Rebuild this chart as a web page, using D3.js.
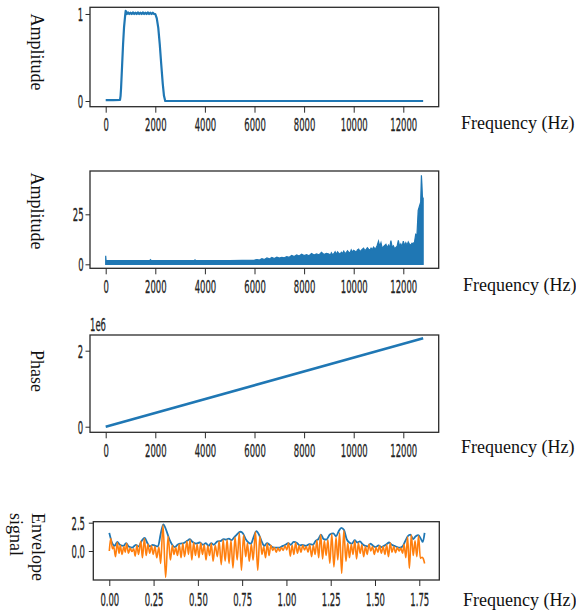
<!DOCTYPE html>
<html><head><meta charset="utf-8">
<script src="https://cdn.jsdelivr.net/npm/d3@7"></script>
<style>body{margin:0;background:#fff}svg{display:block}</style>
</head><body>
<svg id="c" width="576" height="610"></svg>
<script>
// ---------- data ----------
const freqTicks = [0, 2000, 4000, 6000, 8000, 10000, 12000];
const timeTicks = [0, 0.25, 0.5, 0.75, 1.0, 1.25, 1.5, 1.75];

// panel 1 : band-pass filter amplitude
const filterFreq = [0, 300, 577, 600, 620, 660, 700, 740, 780, 806, 850, 900, 950, 1000, 1050, 1100, 1150, 1200, 1250, 1300, 1350, 1400, 1450, 1500, 1550, 1600, 1650, 1700, 1750, 1800, 1850, 1900, 1950, 2000, 2060, 2120, 2180, 2240, 2300, 2350, 2400, 2500, 6000, 12800];
const filterAmp  = [0.011, 0.011, 0.012, 0.06, 0.15, 0.4, 0.65, 0.85, 0.97, 1.035, 1.0, 1.018, 1.0, 1.015, 1.0, 1.018, 1.0, 1.015, 1.0, 1.018, 1.0, 1.015, 1.0, 1.018, 1.0, 1.015, 1.0, 1.018, 1.0, 1.015, 1.0, 1.015, 1.0, 1.0, 0.95, 0.84, 0.65, 0.42, 0.2, 0.06, 0.0, 0.0, 0.0, 0.0];

// panel 2 : amplitude spectrum
const specFreq = [0, 15, 30, 500, 1000, 1500, 1780, 1800, 1850, 2500, 3000, 3580, 3600, 3650, 4000, 4500, 5000, 5500, 6000,
  6100, 6200, 6300, 6400, 6500, 6600, 6700, 6800, 6900, 7000, 7100, 7200, 7300, 7400, 7500, 7600, 7700, 7800, 7900, 8000,
  8100, 8200, 8300, 8400, 8500, 8600, 8700, 8800, 8900,
  9000, 9050, 9100, 9150, 9200, 9250, 9300, 9350, 9400, 9450, 9500, 9550, 9600, 9650, 9700, 9750, 9800, 9850, 9900, 9950,
  10000, 10050, 10100, 10150, 10200, 10250, 10300, 10350, 10400, 10450, 10500, 10550, 10600, 10650, 10700, 10750, 10800, 10850, 10900, 10950,
  11000, 11050, 11100, 11150, 11200, 11250, 11300, 11350, 11400, 11450, 11500, 11550, 11600, 11650, 11700, 11750, 11800, 11850, 11900, 11950,
  12000, 12050, 12100, 12150, 12200, 12250, 12300, 12350, 12400, 12450, 12500, 12550, 12600, 12650, 12700, 12730,
  12750, 12770, 12790, 12800];
const specAmp = [4.3, 1.9, 1.8, 1.8, 1.8, 1.8, 1.8, 2.3, 1.8, 1.8, 1.8, 1.8, 2.2, 1.8, 1.8, 1.9, 1.9, 2.0, 2.1,
  2.4, 2.1, 2.8, 2.4, 3.2, 2.7, 3.4, 2.9, 3.6, 3.1, 3.5, 3.2, 3.8, 3.5, 4.4, 3.9, 4.7, 4.1, 5.0, 4.4,
  4.8, 4.3, 5.4, 4.6, 5.2, 4.7, 6.0, 4.9, 5.5,
  5.1, 4.4, 5.8, 4.8, 5.3, 6.3, 5.0, 6.2, 5.5, 5.0, 6.0, 5.4, 6.6, 5.2, 5.9, 6.8, 6.0, 5.6, 7.2, 6.1,
  7.0, 6.6, 6.0, 7.2, 7.6, 6.4, 6.9, 7.5, 8.0, 6.8, 7.4, 8.3, 7.6, 7.0, 8.1, 7.3, 8.6, 7.8, 8.2, 9.5,
  11.5, 9.0, 10.8, 8.0, 8.8, 9.4, 10.0, 8.2, 9.6, 8.4, 11.8, 8.6, 9.2, 7.8, 8.4, 9.0, 12.0, 9.0, 10.2, 8.8,
  11.6, 9.4, 10.8, 9.5, 11.2, 10.0, 9.6, 10.6, 10.4, 11.0, 15.0, 14.6, 27, 29, 31, 44.5,
  40, 34, 33, 33];

// panel 3 : phase
const phaseFreq = [0, 12800];
const phaseVal  = [0, 2330000];

// panel 4 : envelope (blue) and signal (orange), [time, value]
const envelopePts = [[0,1.6],[0.015,0.75],[0.03,0.45],[0.045,0.8],[0.06,0.55],[0.08,0.45],[0.095,0.7],[0.11,0.4],[0.13,0.3],[0.15,0.55],[0.165,0.4],[0.185,0.95],[0.2,1.15],[0.215,0.7],[0.23,0.4],[0.245,0.55],[0.26,0.45],[0.275,0.4],[0.29,1.5],[0.305,2.36],[0.32,1.9],[0.34,1.0],[0.355,0.55],[0.37,0.35],[0.385,0.55],[0.4,0.65],[0.42,0.7],[0.44,0.9],[0.455,1.05],[0.47,0.8],[0.49,0.65],[0.51,0.75],[0.53,0.55],[0.545,0.7],[0.56,0.45],[0.575,0.7],[0.59,0.55],[0.61,0.85],[0.63,0.9],[0.645,1.05],[0.66,1.0],[0.675,1.1],[0.69,0.95],[0.705,1.2],[0.72,1.45],[0.74,1.7],[0.755,1.55],[0.77,1.05],[0.785,0.75],[0.8,0.65],[0.815,1.25],[0.83,1.75],[0.845,1.45],[0.86,0.85],[0.875,0.45],[0.89,0.7],[0.905,0.55],[0.92,0.35],[0.94,0.3],[0.96,0.3],[0.98,0.45],[0.995,0.55],[1.01,0.7],[1.025,0.55],[1.04,0.8],[1.06,0.7],[1.075,0.5],[1.09,0.55],[1.11,0.45],[1.13,0.6],[1.15,0.55],[1.165,0.9],[1.18,1.05],[1.195,1.45],[1.21,1.05],[1.225,1.0],[1.245,1.45],[1.265,1.55],[1.28,1.3],[1.295,1.75],[1.31,2.05],[1.325,1.85],[1.34,1.05],[1.355,0.75],[1.37,0.65],[1.385,0.95],[1.4,0.75],[1.415,0.85],[1.43,0.6],[1.445,0.45],[1.46,0.4],[1.475,0.65],[1.49,0.45],[1.505,0.35],[1.52,0.5],[1.535,0.35],[1.55,0.45],[1.565,0.6],[1.58,0.75],[1.595,0.55],[1.61,0.45],[1.625,0.35],[1.64,0.3],[1.655,0.4],[1.67,0.85],[1.685,1.3],[1.7,1.45],[1.715,1.05],[1.73,1.3],[1.745,1.4],[1.76,1.05],[1.77,0.8],[1.78,1.6]];

const signalPts = [[0,0.0],[0.008,1.1],[0.018,0.2],[0.025,0.4],[0.035,-0.5],[0.045,0.75],[0.055,-0.2],[0.062,0.5],[0.072,-0.3],[0.082,0.4],[0.09,-0.1],[0.098,0.65],[0.108,-0.2],[0.118,0.25],[0.128,-0.05],[0.138,0.2],[0.146,-0.45],[0.156,0.5],[0.165,-0.3],[0.178,0.85],[0.187,-0.6],[0.198,1.1],[0.208,-0.4],[0.218,0.6],[0.228,-0.2],[0.238,0.45],[0.248,-0.3],[0.258,0.4],[0.268,-0.6],[0.28,0.35],[0.29,-1.1],[0.303,2.3],[0.318,-2.33],[0.332,1.3],[0.345,-0.8],[0.356,0.5],[0.365,-0.3],[0.375,0.3],[0.385,-0.4],[0.395,0.6],[0.405,-0.6],[0.415,0.65],[0.425,-0.5],[0.438,0.85],[0.447,-0.3],[0.456,1.0],[0.466,-0.8],[0.476,0.75],[0.486,-0.4],[0.496,0.6],[0.506,-0.6],[0.516,0.7],[0.526,-0.3],[0.536,0.55],[0.546,-0.8],[0.556,0.45],[0.566,-0.4],[0.576,0.65],[0.586,-0.9],[0.598,0.5],[0.61,-0.5],[0.62,0.85],[0.632,-1.2],[0.643,1.0],[0.654,-0.9],[0.665,1.0],[0.676,-1.1],[0.687,0.95],[0.698,-1.5],[0.71,1.2],[0.722,-0.8],[0.734,1.6],[0.746,-1.7],[0.758,1.4],[0.77,-0.5],[0.78,0.7],[0.79,-0.9],[0.802,0.6],[0.812,-0.8],[0.825,1.7],[0.838,-1.7],[0.85,1.3],[0.862,-0.3],[0.872,0.4],[0.882,-0.6],[0.892,0.65],[0.902,-0.4],[0.912,0.5],[0.922,0.05],[0.932,0.3],[0.942,-0.1],[0.952,0.25],[0.962,0.0],[0.972,0.3],[0.982,0.05],[0.992,0.45],[1.002,0.1],[1.012,0.7],[1.022,-0.45],[1.032,0.5],[1.042,-0.3],[1.052,0.75],[1.062,-0.2],[1.072,0.45],[1.082,-0.1],[1.092,0.5],[1.102,0.1],[1.112,0.4],[1.122,-0.1],[1.132,0.55],[1.142,-0.5],[1.152,0.5],[1.162,-0.3],[1.172,0.95],[1.182,-0.6],[1.193,1.45],[1.204,-0.7],[1.214,0.9],[1.224,-0.4],[1.234,1.0],[1.245,-1.1],[1.256,1.5],[1.268,-1.4],[1.28,1.2],[1.29,-0.8],[1.3,1.6],[1.312,-1.97],[1.324,1.8],[1.336,-0.9],[1.346,0.7],[1.356,-0.6],[1.366,0.6],[1.376,-0.3],[1.386,0.9],[1.396,-0.7],[1.406,0.7],[1.416,-0.2],[1.426,0.55],[1.436,-0.5],[1.446,0.4],[1.456,-0.3],[1.466,0.6],[1.476,0.0],[1.486,0.4],[1.496,-0.3],[1.506,0.3],[1.516,-0.1],[1.526,0.45],[1.536,-0.2],[1.546,0.4],[1.556,-0.3],[1.566,0.55],[1.576,-0.5],[1.586,0.7],[1.596,-0.1],[1.606,0.4],[1.616,-0.15],[1.626,0.3],[1.636,0.0],[1.646,0.25],[1.656,-0.2],[1.664,0.6],[1.674,-0.6],[1.684,1.25],[1.694,-1.53],[1.705,1.4],[1.716,-0.4],[1.726,0.9],[1.736,-0.5],[1.746,1.35],[1.756,-0.65],[1.766,-0.55],[1.772,-0.65],[1.78,-1.1]];

// ---------- layout ----------
const svg = d3.select('#c');
const BLUE = '#1f77b4', ORANGE = '#ff7f0e';
const SQ = 0.47; // horizontal squeeze of tick labels

function panel(o) {
  const x = d3.scaleLinear().domain(o.xd).range([o.l, o.r]);
  const y = d3.scaleLinear().domain(o.yd).range([o.b, o.t]);
  const g = svg.append('g');
  const clip = 'clip' + o.id;
  g.append('clipPath').attr('id', clip).append('rect')
    .attr('x', o.l).attr('y', o.t - 2).attr('width', o.r - o.l).attr('height', o.b - o.t + 2);
  const plot = g.append('g').attr('clip-path', `url(#${clip})`);
  o.draw(plot, x, y);
  g.append('rect').attr('x', o.l).attr('y', o.t).attr('width', o.r - o.l).attr('height', o.b - o.t)
    .attr('fill', 'none').attr('stroke', '#2b2b2b').attr('stroke-width', 1.3);
  const xa = g.append('g').attr('transform', `translate(0,${o.b})`)
    .call(d3.axisBottom(x).tickValues(o.xt).tickSize(o.xtl).tickFormat(o.xf));
  xa.select('.domain').remove();
  xa.selectAll('line').attr('stroke', '#2b2b2b').attr('stroke-width', 1);
  xa.selectAll('text').attr('y', o.xly).attr('dy', 0).attr('transform', `scale(${SQ},1)`)
    .attr('font-family', 'DejaVu Sans').attr('font-size', 18).attr('fill', '#222')
    .attr('stroke', '#222').attr('stroke-width', 0.3);
  const ya = g.append('g').attr('transform', `translate(${o.l},0)`)
    .call(d3.axisLeft(y).tickValues(o.yt).tickSize(4.5).tickFormat(o.yf));
  ya.select('.domain').remove();
  ya.selectAll('line').attr('stroke', '#2b2b2b').attr('stroke-width', 1);
  ya.selectAll('text').attr('x', -o.ylx / SQ).attr('dy', '0.36em').attr('transform', `scale(${SQ},1)`)
    .attr('font-family', 'DejaVu Sans').attr('font-size', 18).attr('fill', '#222')
    .attr('stroke', '#222').attr('stroke-width', 0.3);
  svg.append('text').attr('x', o.xlabX).attr('y', o.xlabY).text('Frequency (Hz)')
    .attr('font-family', 'Liberation Serif').attr('font-size', 18).attr('fill', '#111');
  o.ylab.forEach(L => {
    svg.append('text').attr('transform', `translate(${L.x},${L.y}) rotate(90)`)
      .attr('text-anchor', L.anchor).text(L.text)
      .attr('font-family', 'Liberation Serif').attr('font-size', 18).attr('fill', '#111');
  });
  return {x, y, g};
}

const fmtInt = d3.format('d');

// Panel 1
panel({id: 1, l: 90, r: 438.7, t: 7.3, b: 106.7, xd: [-633, 13427], yd: [-0.0655, 1.077],
  xt: freqTicks, xf: fmtInt, xtl: 6, xly: 24.7, yt: [0, 1], yf: fmtInt, ylx: 7,
  xlabX: 461, xlabY: 129, ylab: [{x: 31, y: 52, anchor: 'middle', text: 'Amplitude'}],
  draw: (p, x, y) => {
    p.append('path').datum(filterFreq.map((f, i) => [f, filterAmp[i]]))
      .attr('d', d3.line().x(d => x(d[0])).y(d => y(d[1])))
      .attr('fill', 'none').attr('stroke', BLUE).attr('stroke-width', 2.2).attr('stroke-linejoin', 'round');
  }});

// Panel 2
panel({id: 2, l: 90, r: 438.7, t: 171, b: 268.3, xd: [-633, 13427], yd: [-2.0, 46.65],
  xt: freqTicks, xf: fmtInt, xtl: 6, xly: 24.7, yt: [0, 25], yf: fmtInt, ylx: 6.5,
  xlabX: 463, xlabY: 291, ylab: [{x: 31, y: 211, anchor: 'middle', text: 'Amplitude'}],
  draw: (p, x, y) => {
    const pts = specFreq.map((f, i) => [f, specAmp[i]]);
    p.append('path').datum(pts)
      .attr('d', d3.area().x(d => x(d[0])).y0(y(0)).y1(d => y(d[1])))
      .attr('fill', BLUE).attr('stroke', BLUE).attr('stroke-width', 1.2).attr('stroke-linejoin', 'miter');
  }});

// Panel 3
panel({id: 3, l: 90, r: 438.7, t: 335, b: 432.3, xd: [-633, 13427], yd: [-147000, 2413000],
  xt: freqTicks, xf: fmtInt, xtl: 6, xly: 24.7, yt: [0, 2000000], yf: d => fmtInt(d / 1e6), ylx: 7,
  xlabX: 461, xlabY: 453, ylab: [{x: 31, y: 371, anchor: 'middle', text: 'Phase'}],
  draw: (p, x, y) => {
    p.append('path').datum(phaseFreq.map((f, i) => [f, phaseVal[i]]))
      .attr('d', d3.line().x(d => x(d[0])).y(d => y(d[1])))
      .attr('fill', 'none').attr('stroke', BLUE).attr('stroke-width', 2.6);
  }});
svg.append('text').attr('transform', `translate(90,331) scale(${SQ},1)`).text('1e6')
  .attr('font-family', 'DejaVu Sans').attr('font-size', 18).attr('fill', '#222')
  .attr('stroke', '#222').attr('stroke-width', 0.3);

// Panel 4
panel({id: 4, l: 93.3, r: 439.3, t: 521.7, b: 580, xd: [-0.0903, 1.863], yd: [-2.561, 2.588],
  xt: timeTicks, xf: d3.format('.2f'), xtl: 6, xly: 26, yt: [0, 2.5], yf: d3.format('.1f'), ylx: 8.3,
  xlabX: 463, xlabY: 606,
  ylab: [{x: 32, y: 513, anchor: 'start', text: 'Envelope'}, {x: 10, y: 513, anchor: 'start', text: 'signal'}],
  draw: (p, x, y) => {
    const ln = d3.line().x(d => x(d[0])).y(d => y(d[1])).curve(d3.curveMonotoneX);
    p.append('path').datum(envelopePts).attr('d', ln)
      .attr('fill', 'none').attr('stroke', BLUE).attr('stroke-width', 1.8).attr('stroke-linejoin', 'round');
    p.append('path').datum(signalPts).attr('d', ln)
      .attr('fill', 'none').attr('stroke', ORANGE).attr('stroke-width', 1.6).attr('stroke-linejoin', 'round');
  }});
</script>
</body></html>
